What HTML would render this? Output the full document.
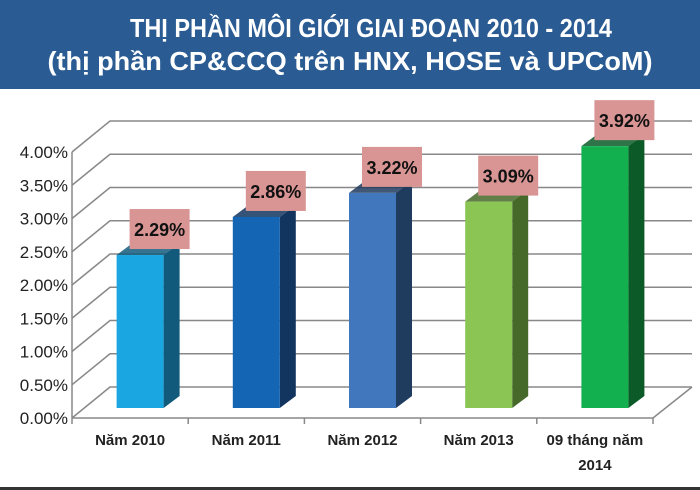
<!DOCTYPE html>
<html><head><meta charset="utf-8"><style>
html,body{margin:0;padding:0;background:#fff;}
svg{display:block;font-family:"Liberation Sans",sans-serif;}
</style></head><body>
<svg id="chart" width="700" height="490" viewBox="0 0 700 490">
<rect x="0" y="0" width="700" height="89" fill="#2a5b92"/>
<text x="371" y="37" text-anchor="middle" font-size="26" font-weight="bold" fill="#fff" textLength="482" lengthAdjust="spacingAndGlyphs">THỊ PHẦN MÔI GIỚI GIAI ĐOẠN 2010 - 2014</text>
<text x="350" y="70" text-anchor="middle" font-size="26" font-weight="bold" fill="#fff" textLength="605" lengthAdjust="spacingAndGlyphs">(thị phần CP&amp;CCQ trên HNX, HOSE và UPCoM)</text>
<rect x="0" y="487" width="700" height="3" fill="#333"/>
<g id="grid"></g><g id="bars"></g><g id="labels"></g>
</svg>
<script>
const categories = ["Năm 2010","Năm 2011","Năm 2012","Năm 2013","09 tháng năm|2014"];
const values = [2.29, 2.86, 3.22, 3.09, 3.92];
const tickLabels = ["0.00%","0.50%","1.00%","1.50%","2.00%","2.50%","3.00%","3.50%","4.00%"];
const tickValues = [0,0.5,1,1.5,2,2.5,3,3.5,4];
const colors = [["#1aa6e0","#125a7c"],["#1565b5","#12355f"],["#4178bd","#1f3b5e"],["#8bc553","#46692a"],["#13b050","#0b5a28"]];

const NS="http://www.w3.org/2000/svg";
function mk(tag,attrs,parent){const e=document.createElementNS(NS,tag);for(const k in attrs)e.setAttribute(k,attrs[k]);parent.appendChild(e);return e;}
const grid=document.getElementById('grid'),bars=document.getElementById('bars'),labels=document.getElementById('labels');
const x0=72, xEnd=653, dx=38, dy=-31;
const yAxis=v=>418-v*66.5;
const yBar=v=>408-v*66.8;
const step=(xEnd-x0)/categories.length;
const xCenter=i=>x0+step*(i+0.5);

tickValues.forEach((v,i)=>{
  const y=yAxis(v);
  let l=mk('polyline',{points:`${x0},${y} ${x0+dx},${y+dy} 692,${y+dy}`,fill:'none',stroke:'#888','stroke-width':1.5},grid);
  
  
  let t=mk('text',{x:x0-4,y:y+6,'text-anchor':'end','font-size':17,fill:'#222'},grid);
  t.textContent=tickLabels[i];
  
  
});
let fl=mk('polyline',{points:`${x0},418 ${xEnd},418 692,387`,fill:'none',stroke:'#888','stroke-width':1.5},grid);


let ax=mk('line',{x1:x0,y1:yAxis(0),x2:x0,y2:yAxis(4),stroke:'#888','stroke-width':1.5},grid);


for(let i=0;i<=categories.length;i++){
  let tk=mk('line',{x1:x0+step*i,y1:418,x2:x0+step*i,y2:424,stroke:'#888','stroke-width':1.5},grid);
  
  
}

values.forEach((v,i)=>{
  const cx=xCenter(i), w=47, bx=cx-w/2+10, yb=yBar(0), yt=yBar(v), sx=16, sy=-12;
  const g=mk('g',{},bars);
  
  
  mk('polygon',{points:`${bx+w},${yt} ${bx+w+sx},${yt+sy} ${bx+w+sx},${yb+sy} ${bx+w},${yb}`,fill:colors[i][1]},g);
  mk('polygon',{points:`${bx},${yt} ${bx+sx},${yt+sy} ${bx+w+sx},${yt+sy} ${bx+w},${yt}`,fill:colors[i][1],opacity:0.85},g);
  mk('rect',{x:bx,y:yt,width:w,height:yb-yt,fill:colors[i][0]},g);
  const lx=bx+13, ly=yt-46;
  const lg=mk('g',{},labels);
  
  
  mk('rect',{x:lx,y:ly,width:60,height:40,fill:'#d99594'},lg);
  const t=mk('text',{x:lx+30,y:ly+27,'text-anchor':'middle','font-size':18,'font-weight':'bold',fill:'#111'},lg);
  t.textContent=v.toFixed(2)+'%';
  const parts=categories[i].split('|');
  parts.forEach((p,j)=>{
    const c=mk('text',{x:cx,y:445+j*25,'text-anchor':'middle','font-size':15,'font-weight':'bold',fill:'#222'},labels);
    c.textContent=p;
    
    
  });
});
</script>
</body></html>
